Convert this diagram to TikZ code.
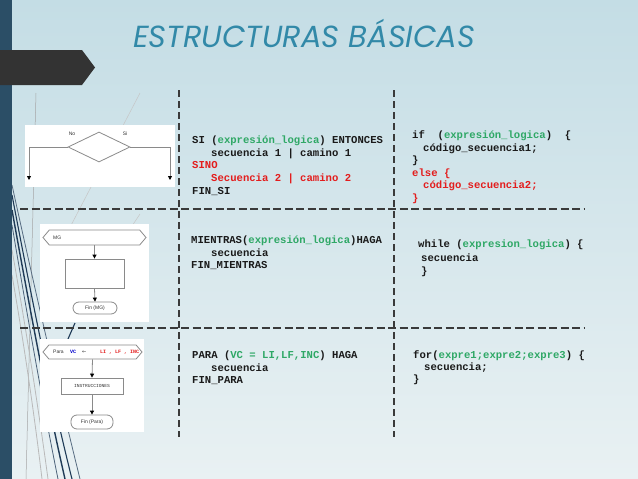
\documentclass[tikz,border=0pt]{standalone}
\usepackage{fontspec}
\usetikzlibrary{arrows.meta,shapes.geometric,shapes.symbols}
\newfontfamily\codefont{Liberation Mono}
\newfontfamily\titlefont{Poppins}
\newfontfamily\smallsans{Liberation Sans}
\newfontfamily\symfont{DejaVu Sans}
\definecolor{bgtop}{HTML}{C4DDE5}
\definecolor{bgbot}{HTML}{E9F1F3}
\definecolor{barblue}{HTML}{2B4E66}
\definecolor{darkgray}{HTML}{333333}
\definecolor{titleblue}{HTML}{3289A8}
\definecolor{codegreen}{HTML}{2FA866}
\definecolor{codered}{HTML}{E31D1D}
\definecolor{codeblack}{HTML}{1A1A1A}
\definecolor{dashcol}{HTML}{3A3A3A}
\definecolor{flowgray}{HTML}{8A8A8A}
\definecolor{navy}{HTML}{1F3B57}
\tikzset{
  code/.style={anchor=base west,inner sep=0pt,text=codeblack,font=\codefont\bfseries\fontsize{10.6}{12.7}\selectfont},
  hdash/.style={draw=dashcol,line width=1.7pt,dash pattern=on 8pt off 3.5pt},
  vdash/.style={draw=dashcol,line width=1.1pt,dash pattern=on 7pt off 4pt},
  picbox/.style={fill=white,draw=none},
  flowline/.style={draw=flowgray,line width=0.8pt},
  flowarrow/.style={flowline,-{Triangle[length=4pt,width=4pt,color=black]}},
  hexbox/.style={shape=signal,signal to=west and east,signal pointer angle=100,draw=flowgray,line width=0.8pt,inner sep=0pt},
  ovalbox/.style={draw=flowgray,line width=0.8pt,rounded corners=6pt,inner sep=0pt},
  rectbox/.style={draw=flowgray,line width=0.8pt,inner sep=0pt},
  tinytext/.style={inner sep=0pt,text=darkgray,font=\smallsans\fontsize{5}{6}\selectfont},
  swoosh/.style={draw=navy,line width=1.1pt},
  faint/.style={draw=gray!45,line width=0.5pt},
}
\begin{document}
\begin{tikzpicture}[x=1pt,y=-1pt]
\useasboundingbox (0,0) rectangle (638,479);
% background
\shade[top color=bgtop,bottom color=bgbot] (0,0) rectangle (638,479);
% decorative lines
\draw[faint,draw=gray!70] (36,93) -- (26,479);
\draw[faint] (140,93) -- (66,235);
\draw[faint] (140,214) -- (128,232);
\draw[faint,draw=gray!55,line width=0.8pt] (12,250) .. controls (28,340) and (40,420) .. (48,479);
\draw[faint,draw=gray!55,line width=0.8pt] (12,275) .. controls (25,350) and (35,420) .. (42,479);
\draw[swoosh,draw=navy!75,line width=0.8pt] (12,185) .. controls (35,290) and (58,390) .. (80,479);
\draw[swoosh] (12,195) .. controls (32,300) and (52,400) .. (72,479);
\draw[swoosh,line width=1.4pt] (12,210) .. controls (30,310) and (48,405) .. (65,479);
\draw[swoosh,draw=navy!80,line width=0.8pt] (12,225) .. controls (28,320) and (44,410) .. (58,479);
\draw[swoosh] (75,323) -- (68,339);
% left bar and pentagon
\fill[barblue] (0,0) rectangle (12,479);
\fill[darkgray] (0,50) -- (82,50) -- (95,67.5) -- (82,85) -- (0,85) -- cycle;
% title
\node[anchor=base west,inner sep=0pt,text=titleblue,font=\titlefont\itshape\fontsize{30.5}{33}\selectfont] (title) at (133,47) {ESTRUCTURAS BÁSICAS};
% dashed grid
\coordinate (v1t) at (179,90); \coordinate (v1b) at (179,437);
\coordinate (v2t) at (394,90); \coordinate (v2b) at (394,437);
\coordinate (h1l) at (20,209); \coordinate (h1r) at (585,209);
\coordinate (h2l) at (20,328); \coordinate (h2r) at (585,328);
\draw[vdash] (v1t) -- (v1b);
\draw[vdash] (v2t) -- (v2b);
\draw[hdash] (h1l) -- (h1r);
\draw[hdash] (h2l) -- (h2r);
% ---- IF flowchart
\fill[picbox] (25,125) rectangle (175,187);
\node[shape=diamond,draw=flowgray,line width=0.8pt,minimum width=62pt,minimum height=30pt,inner sep=0pt,aspect=2] (dia) at (99,147) {};
\coordinate (ifl) at (29,180);
\coordinate (ifr) at (170,180);
\draw[flowarrow] (dia.west) -| (ifl);
\draw[flowarrow] (dia.east) -| (ifr);
\node[tinytext] (no) at (72,134) {No};
\node[tinytext] (si) at (125,134) {Si};
% ---- MIENTRAS flowchart
\fill[picbox] (40,224) rectangle (149,322);
\node[hexbox,minimum width=103pt,minimum height=15pt] (mg) at (94.5,237.5) {};
\node[tinytext,anchor=west] (mgt) at (53,237.5) {MG};
\node[rectbox,minimum width=59pt,minimum height=29pt] (mbody) at (94.5,273.5) {};
\node[ovalbox,minimum width=44pt,minimum height=12pt] (mfin) at (95,308) {};
\node[tinytext] (mfint) at (mfin) {Fin (MG)};
\draw[flowarrow] (mg.south) -- (mbody.north);
\draw[flowarrow] (mbody.south) -- (mfin.north);
% ---- PARA flowchart
\fill[picbox] (40,339) rectangle (144,432);
\node[hexbox,minimum width=99pt,minimum height=14pt] (para) at (92.5,352) {};
\node[tinytext,anchor=west] (parat) at (53,352) {Para};
\node[anchor=west,inner sep=0pt,text=blue!80!black,font=\codefont\bfseries\fontsize{5}{6}\selectfont] (vc) at (70,352) {VC};
\node[anchor=west,inner sep=0pt,text=darkgray,font=\symfont\fontsize{5}{6}\selectfont] (arr) at (82,352) {←};
\node[anchor=west,inner sep=0pt,text=codered,font=\codefont\bfseries\fontsize{5}{6}\selectfont] (lims) at (100,352) {LI , LF , INC};
\node[rectbox,minimum width=62pt,minimum height=16pt] (pbody) at (92,386) {};
\node[inner sep=0pt,text=darkgray,font=\codefont\fontsize{4.6}{6}\selectfont] (pbodyt) at (pbody) {INSTRUCCIONES};
\node[ovalbox,minimum width=42pt,minimum height=14pt] (pfin) at (92,422) {};
\node[tinytext] (pfint) at (pfin) {Fin (Para)};
\draw[flowarrow] (para.south) -- (pbody.north);
\draw[flowarrow] (pbody.south) -- (pfin.north);
% ---- SI block
\node[code] (s1) at (192,143.5) {SI (\textcolor{codegreen}{expresión\_logica}) ENTONCES};
\node[code] (s2) at (211,156.2) {secuencia 1 | camino 1};
\node[code,text=codered] (s3) at (192,168.9) {SINO};
\node[code,text=codered] (s4) at (211,181.6) {Secuencia 2 | camino 2};
\node[code] (s5) at (192,194.3) {FIN\_SI};
% ---- if block
\node[code] (i1) at (412,138.5) {if\ \ (\textcolor{codegreen}{expresión\_logica})\ \ \{};
\node[code] (i2) at (423,151) {código\_secuencia1;};
\node[code] (i3) at (412,163.5) {\}};
\node[code,text=codered] (i4) at (412,176) {else \{};
\node[code,text=codered] (i5) at (423,188.5) {código\_secuencia2;};
\node[code,text=codered] (i6) at (412,201) {\}};
% ---- MIENTRAS block
\node[code] (m1) at (191,243.5) {MIENTRAS(\textcolor{codegreen}{expresión\_logica})HAGA};
\node[code] (m2) at (211,256) {secuencia};
\node[code] (m3) at (191,268.5) {FIN\_MIENTRAS};
% ---- while block
\node[code] (w1) at (418,247.5) {while (\textcolor{codegreen}{expresion\_logica}) \{};
\node[code] (w2) at (421,261) {secuencia};
\node[code] (w3) at (421,274.5) {\}};
% ---- PARA block
\node[code] (p1) at (192,358.5) {PARA (\textcolor{codegreen}{VC = LI,LF,INC}) HAGA};
\node[code] (p2) at (211,371) {secuencia};
\node[code] (p3) at (192,383.5) {FIN\_PARA};
% ---- for block
\node[code] (f1) at (413,358.5) {for(\textcolor{codegreen}{expre1;expre2;expre3}) \{};
\node[code] (f2) at (424,370.5) {secuencia;};
\node[code] (f3) at (413,382.5) {\}};
\end{tikzpicture}
\end{document}
